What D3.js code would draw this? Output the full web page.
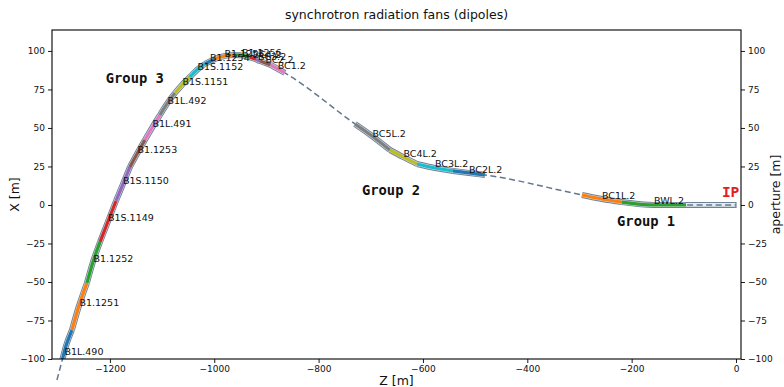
<!DOCTYPE html>
<html><head><meta charset="utf-8">
<script src="https://cdn.jsdelivr.net/npm/d3@7"></script>
<style>body{margin:0;background:#fff} svg{display:block}</style>
</head><body>
<svg id="c" width="784" height="387"></svg>
<script>
// beam survey (Z, X) in metres
const pathZ = [-1301.5,-1291.9,-1284.3,-1272.8,-1259.4,-1244.0,-1232.5,-1218.9,-1201.8,-1188.4,-1175.0,-1161.6,-1148.2,-1132.9,-1119.4,-1104.1,-1090.7,-1075.3,-1061.9,-1046.6,-1033.2,-1017.8,-998.7,-979.5,-960.3,-941.2,-927.8,-912.4,-897.1,-881.8,-864.5,-730.3,-697.7,-663.2,-638.3,-611.5,-577.0,-542.5,-511.8,-481.1,-295.2,-256.9,-218.5,-157.2,-95.8,0];
const pathX = [-113.6,-101.3,-91.6,-81.2,-65.6,-50.6,-37.0,-24.0,-9.1,2.6,13.6,24.7,33.1,42.2,50.0,58.4,65.6,72.7,77.9,83.1,87.7,91.6,94.8,96.8,97.4,96.8,95.5,93.5,91.6,89.0,85.7,52.6,44.8,35.7,31.2,26.6,24.0,22.1,20.8,19.5,6.5,3.9,1.9,0.0,0.0,0.0];

// dipoles
const magnetNames = ["B1L.490","B1.1251","B1.1252","B1S.1149","B1S.1150","B1.1253","B1L.491","B1L.492","B1S.1151","B1S.1152","B1.1254","B1.1255","B1.1256","BC4.2","BC3.2","BC2.2","BC1.2","BC5L.2","BC4L.2","BC3L.2","BC2L.2","BC1L.2","BWL.2"];
const magnetZ0 = [-1301.5,-1272.8,-1244.0,-1218.9,-1188.4,-1161.6,-1132.9,-1104.1,-1075.3,-1046.6,-1017.8,-998.7,-962,-932,-920,-912,-892,-730.3,-663.2,-611.5,-542.5,-295.2,-218.5];
const magnetX0 = [-113.6,-81.2,-50.6,-24.0,2.6,24.7,42.2,58.4,72.7,83.1,91.6,94.8,97.4,95.9,94.6,93.5,91.0,52.6,35.7,26.6,22.1,6.5,1.9];
const magnetZ1 = [-1272.8,-1244.0,-1218.9,-1188.4,-1161.6,-1132.9,-1104.1,-1075.3,-1046.6,-1017.8,-998.7,-962,-932,-920,-912,-892,-864.5,-663.2,-611.5,-542.5,-481.1,-218.5,-95.8];
const magnetX1 = [-81.2,-50.6,-24.0,2.6,24.7,42.2,58.4,72.7,83.1,91.6,94.8,97.4,95.9,94.6,93.5,91.0,85.7,35.7,26.6,22.1,19.5,1.9,0.0];

// final drift aperture up to the IP
const apertureZ = [-95.8, 0];
const apertureX = [0, 0];

// annotations
const groupNames = ["Group 3","Group 2","Group 1"];
const groupZ = [-1208,-717,-228];
const groupX = [79,6.5,-13.6];
const ipLabel = "IP";
const ipZ = [-27];
const ipX = [5.2];

const xTicks = [-1200,-1000,-800,-600,-400,-200,0];
const yTicks = [-100,-75,-50,-25,0,25,50,75,100];

const M = {l:52, r:741, t:30, b:359};
const svg = d3.select("#c");
const x = d3.scaleLinear().domain([-1311, 9.6]).range([M.l, M.r]);
const y = d3.scaleLinear().domain([-100, 113.6]).range([M.b, M.t]);
const fmt = d => d < 0 ? "\u2212" + Math.abs(d) : String(d);
const FONT = "DejaVu Sans";

svg.append("defs").append("clipPath").attr("id","clip")
  .append("rect").attr("x",M.l).attr("y",M.t).attr("width",M.r-M.l).attr("height",M.b-M.t);

const line = d3.line().x(d=>x(d[0])).y(d=>y(d[1])).curve(d3.curveMonotoneX);
const pts = pathZ.map((z,i)=>[z,pathX[i]]);

// drift aperture at IP
const ap = apertureZ.map((z,i)=>[z,apertureX[i]]);
const gAp = svg.append("g");
gAp.append("path").attr("d", line(ap)).attr("fill","none").attr("stroke","#6f8295").attr("stroke-width",6);
gAp.append("path").attr("d", line(ap)).attr("fill","none").attr("stroke","#e6ecf1").attr("stroke-width",3.8);
gAp.append("line").attr("x1",x(apertureZ[1])).attr("x2",x(apertureZ[1]))
  .attr("y1",y(apertureX[1])-3).attr("y2",y(apertureX[1])+3).attr("stroke","#6f8295").attr("stroke-width",1.2);

// beam line (dashed, not clipped)
svg.append("path").attr("d", line(pts)).attr("fill","none")
  .attr("stroke","#5f7890").attr("stroke-width",1.5).attr("stroke-dasharray","6,3.5");

// magnets
const gM = svg.append("g").attr("clip-path","url(#clip)");
const segs = magnetNames.map((n,i)=>{
  const inner = pts.filter(p => p[0] > magnetZ0[i]+0.01 && p[0] < magnetZ1[i]-0.01);
  return [[magnetZ0[i],magnetX0[i]], ...inner, [magnetZ1[i],magnetX1[i]]];
});
segs.forEach(s=>{
  gM.append("path").attr("d",line(s)).attr("fill","none").attr("stroke","#6f8295").attr("stroke-width",6);
});
segs.forEach(s=>{
  gM.append("path").attr("d",line(s)).attr("fill","none").attr("stroke","#d3dbe3").attr("stroke-width",4.2);
});
segs.forEach((s,i)=>{
  gM.append("path").attr("d",line(s)).attr("fill","none")
    .attr("stroke", d3.schemeCategory10[i % 10]).attr("stroke-width",3.2);
});

// magnet labels at the magnet centre
magnetNames.forEach((n,i)=>{
  const cz = (magnetZ0[i]+magnetZ1[i])/2, cx = (magnetX0[i]+magnetX1[i])/2;
  svg.append("text").attr("x",x(cz)).attr("y",y(cx)).text(n)
    .attr("font-family",FONT).attr("font-size",9.5).attr("fill","#111");
});

// group labels
groupNames.forEach((g,i)=>{
  svg.append("text").attr("x",x(groupZ[i])).attr("y",y(groupX[i])).text(g)
    .attr("font-family","DejaVu Sans Mono").attr("font-weight","bold").attr("font-size",13.8).attr("fill","#111");
});
svg.append("text").attr("x",x(ipZ[0])).attr("y",y(ipX[0])).text(ipLabel)
  .attr("font-family","DejaVu Sans Mono").attr("font-weight","bold").attr("font-size",14.5).attr("fill","#e0201f");

// axes
function styleAxis(g){
  g.select(".domain").remove();
  g.selectAll(".tick line").attr("stroke","#000").attr("stroke-width",0.9);
  g.selectAll(".tick text").attr("font-family",FONT).attr("font-size",9).attr("fill","#111");
}
svg.append("g").attr("transform",`translate(0,${M.b})`)
  .call(d3.axisBottom(x).tickValues(xTicks).tickSize(4).tickPadding(3).tickFormat(fmt)).call(styleAxis);
svg.append("g").attr("transform",`translate(${M.l},0)`)
  .call(d3.axisLeft(y).tickValues(yTicks).tickSize(4).tickPadding(3).tickFormat(fmt)).call(styleAxis);
svg.append("g").attr("transform",`translate(${M.r},0)`)
  .call(d3.axisRight(y).tickValues(yTicks).tickSize(4).tickPadding(3).tickFormat(fmt)).call(styleAxis);

svg.append("rect").attr("x",M.l).attr("y",M.t).attr("width",M.r-M.l).attr("height",M.b-M.t)
  .attr("fill","none").attr("stroke","#000").attr("stroke-width",1.1);

// titles
svg.append("text").attr("x",(M.l+M.r)/2).attr("y",19).attr("text-anchor","middle")
  .attr("font-family",FONT).attr("font-size",12.5).attr("fill","#111").text("synchrotron radiation fans (dipoles)");
svg.append("text").attr("x",(M.l+M.r)/2).attr("y",385).attr("text-anchor","middle")
  .attr("font-family",FONT).attr("font-size",12.5).attr("fill","#111").text("Z [m]");
svg.append("text").attr("transform",`translate(19,${(M.t+M.b)/2}) rotate(-90)`).attr("text-anchor","middle")
  .attr("font-family",FONT).attr("font-size",12.5).attr("fill","#111").text("X [m]");
svg.append("text").attr("transform",`translate(780,${(M.t+M.b)/2}) rotate(-90)`).attr("text-anchor","middle")
  .attr("font-family",FONT).attr("font-size",12.5).attr("fill","#111").text("aperture [m]");
</script>
</body></html>
